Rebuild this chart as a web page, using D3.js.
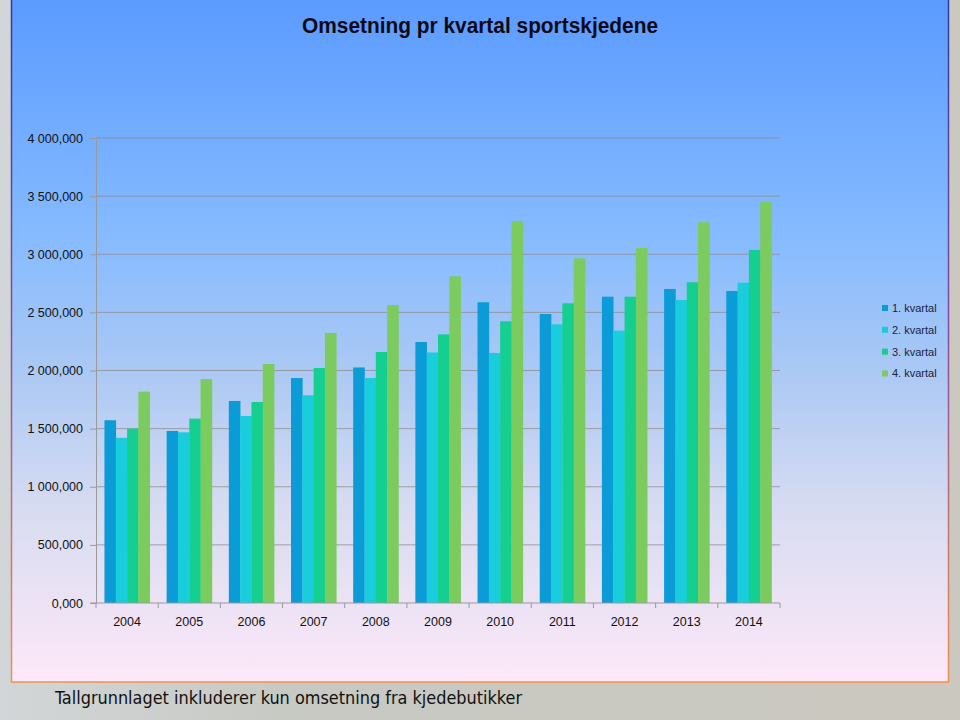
<!DOCTYPE html>
<html><head><meta charset="utf-8">
<script src="https://cdn.jsdelivr.net/npm/d3@7"></script>
<style>html,body{margin:0;padding:0;background:#c8c9c3;}svg{display:block;}</style>
</head><body>
<script>
const years = ["2004","2005","2006","2007","2008","2009","2010","2011","2012","2013","2014"];
const seriesNames = ["1. kvartal","2. kvartal","3. kvartal","4. kvartal"];
const q1 = [1.572,1.480,1.738,1.935,2.026,2.245,2.587,2.486,2.635,2.701,2.684];
const q2 = [1.421,1.468,1.609,1.787,1.935,2.155,2.151,2.397,2.343,2.606,2.755];
const q3 = [1.500,1.586,1.729,2.022,2.159,2.311,2.423,2.578,2.635,2.759,3.037];
const q4 = [1.818,1.927,2.056,2.323,2.563,2.810,3.286,2.965,3.054,3.275,3.449];
const yTicks = [0,0.5,1,1.5,2,2.5,3,3.5,4];
const yTickLabels = ["0,000","500,000","1 000,000","1 500,000","2 000,000","2 500,000","3 000,000","3 500,000","4 000,000"];
const colors = ["#0b9bd7","#19cddc","#14cf8f","#7ccb5e"];
const title = "Omsetning pr kvartal sportskjedene";
const footnote = "Tallgrunnlaget inkluderer kun omsetning fra kjedebutikker";

const W = 960, H = 720;
const svg = d3.select("body").append("svg").attr("width", W).attr("height", H);
const defs = svg.append("defs");

const pg = defs.append("linearGradient").attr("id","pagebg").attr("x1",0).attr("x2",1).attr("y1",0).attr("y2",0);
pg.append("stop").attr("offset","0%").attr("stop-color","#d2d6d8");
pg.append("stop").attr("offset","30%").attr("stop-color","#c7c9c3");
pg.append("stop").attr("offset","100%").attr("stop-color","#cbc8bf");
svg.append("rect").attr("width",W).attr("height",H).attr("fill","url(#pagebg)");

const bg = defs.append("linearGradient").attr("id","panelbg").attr("x1",0).attr("x2",0).attr("y1",0).attr("y2",1);
[["0%","#5b9bff"],["35%","#86bbff"],["55%","#acc9f4"],["75%","#d8dcf1"],["100%","#fde8f8"]]
  .forEach(([o,c]) => bg.append("stop").attr("offset",o).attr("stop-color",c));
const bd = defs.append("linearGradient").attr("id","panelbd").attr("x1",0).attr("x2",0).attr("y1",0).attr("y2",1);
[["0%","#2a3aa0"],["50%","#8a4aa0"],["100%","#ee9250"]]
  .forEach(([o,c]) => bd.append("stop").attr("offset",o).attr("stop-color",c));

svg.append("rect").attr("x",11.5).attr("y",-1).attr("width",937).attr("height",683)
  .attr("fill","url(#panelbg)").attr("stroke","url(#panelbd)").attr("stroke-width",1.5);

svg.append("text").attr("x",480).attr("y",33).attr("text-anchor","middle")
  .attr("font-family","'Liberation Sans',Arial,sans-serif")
  .attr("font-weight","bold").attr("font-size",22)
  .attr("textLength",356).attr("lengthAdjust","spacingAndGlyphs")
  .attr("fill","#0a0a14").text(title);

const x0 = 96, x1 = 780, yTop = 138, yBot = 603;
const x = d3.scaleBand().domain(years).range([x0,x1]).paddingInner(0.272).paddingOuter(0.136);
const xs = d3.scaleBand().domain(seriesNames).range([0, x.bandwidth()]);
const y = d3.scaleLinear().domain([0,4]).range([yBot,yTop]);

// gridlines
const g = svg.append("g");
g.selectAll("line.grid").data(yTicks.filter(d=>d>0)).enter().append("line")
  .attr("x1",x0).attr("x2",x1).attr("y1",d=>y(d)).attr("y2",d=>y(d))
  .attr("stroke","#8e8a8a").attr("stroke-opacity",0.75).attr("stroke-width",1);

// y axis
const yAxis = d3.axisLeft(y).tickValues(yTicks).tickSize(6).tickFormat((d,i)=>yTickLabels[i]);
const ya = svg.append("g").attr("transform",`translate(${x0},0)`).call(yAxis);
ya.select(".domain").attr("stroke","#9a9a9a");
ya.selectAll(".tick line").attr("stroke","#9a9a9a");
ya.selectAll(".tick text").attr("x",-13).attr("font-family","'Liberation Sans',Arial,sans-serif")
  .attr("font-size",12.5).attr("fill","#111");

// bars
const data = [q1,q2,q3,q4];
const groups = svg.append("g").selectAll("g").data(years).enter().append("g")
  .attr("transform",d=>`translate(${x(d)},0)`);
groups.selectAll("rect").data((yr,i)=>seriesNames.map((s,k)=>({s,k,v:data[k][i]}))).enter().append("rect")
  .attr("x",d=>xs(d.s)).attr("width",xs.bandwidth()+0.3)
  .attr("y",d=>y(d.v)).attr("height",d=>yBot-y(d.v)).attr("fill",d=>colors[d.k]);

// x axis
const xt = d3.scaleLinear().domain([0,years.length]).range([x0,x1]);
const xa = svg.append("g").attr("transform",`translate(0,${yBot})`);
xa.append("line").attr("x1",x0-6).attr("x2",x1).attr("stroke","#9a9a9a");
xa.selectAll("line.tk").data(d3.range(years.length+1)).enter().append("line")
  .attr("x1",d=>xt(d)).attr("x2",d=>xt(d)).attr("y1",0).attr("y2",5).attr("stroke","#9a9a9a");
xa.selectAll("text").data(years).enter().append("text")
  .attr("x",d=>x(d)+x.bandwidth()/2).attr("y",23).attr("text-anchor","middle")
  .attr("font-family","'Liberation Sans',Arial,sans-serif").attr("font-size",12.5).attr("fill","#111").text(d=>d);

// legend
const lg = svg.append("g").selectAll("g").data(seriesNames).enter().append("g")
  .attr("transform",(d,i)=>`translate(882,${308+i*21.8})`);
lg.append("rect").attr("x",0).attr("y",-3).attr("width",6).attr("height",6).attr("fill",(d,i)=>colors[i]);
lg.append("text").attr("x",10).attr("y",4).attr("font-family","'Liberation Sans',Arial,sans-serif")
  .attr("font-size",11).attr("fill","#1a2340").text(d=>d);

svg.append("text").attr("x",55).attr("y",704)
  .attr("font-family","'DejaVu Sans Condensed','DejaVu Sans',sans-serif").attr("font-size",17.9)
  .attr("fill","#111").text(footnote);
</script>
</body></html>
